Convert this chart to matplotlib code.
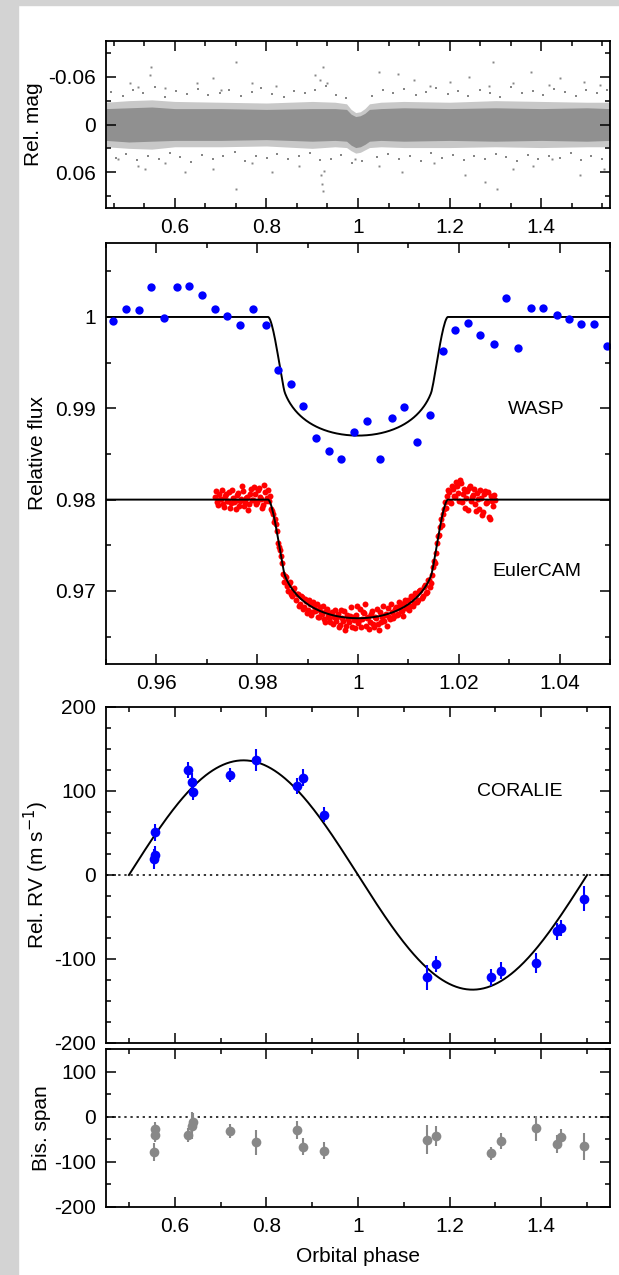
import numpy as np
import matplotlib
matplotlib.use("Agg")
import matplotlib.pyplot as plt
from matplotlib.patches import Rectangle
from matplotlib.ticker import MultipleLocator, FixedLocator

plt.rcParams['font.family'] = ['Liberation Sans', 'DejaVu Sans']
plt.rcParams['axes.unicode_minus'] = False

# ---- WASP survey light curve (top panel): band envelope ----
band_phase = [0.45, 0.50, 0.55, 0.60, 0.70, 0.80, 0.90, 0.95, 0.975, 0.985, 0.995, 1.005,
              1.015, 1.025, 1.05, 1.10, 1.20, 1.30, 1.40, 1.50, 1.55]
core_top = [-0.020, -0.021, -0.022, -0.020, -0.020, -0.019, -0.020, -0.020, -0.019, -0.013, -0.010,
            -0.011, -0.014, -0.019, -0.020, -0.021, -0.020, -0.021, -0.020, -0.021, -0.020]
core_bot = [0.020, 0.022, 0.021, 0.020, 0.020, 0.019, 0.021, 0.020, 0.021, 0.026, 0.029,
            0.028, 0.025, 0.021, 0.020, 0.021, 0.020, 0.021, 0.020, 0.021, 0.020]
mid_top = [-0.028, -0.030, -0.031, -0.029, -0.028, -0.027, -0.029, -0.028, -0.026, -0.019, -0.015,
           -0.016, -0.020, -0.026, -0.028, -0.029, -0.028, -0.030, -0.029, -0.028, -0.028]
mid_bot = [0.028, 0.030, 0.031, 0.028, 0.028, 0.027, 0.030, 0.028, 0.029, 0.033, 0.036,
           0.035, 0.032, 0.029, 0.028, 0.029, 0.029, 0.028, 0.029, 0.028, 0.028]

# scattered points at the fuzzy edge of the band
fringe_phase = [0.462, 0.487, 0.509, 0.531, 0.556, 0.578, 0.603, 0.627, 0.651, 0.672, 0.698, 0.719,
                0.744, 0.768, 0.789, 0.813, 0.838, 0.861, 0.884, 0.906, 0.931, 0.952, 0.973, 1.031,
                1.054, 1.077, 1.101, 1.126, 1.148, 1.171, 1.196, 1.218, 1.241, 1.266, 1.289, 1.311,
                1.334, 1.358, 1.381, 1.404, 1.428, 1.452, 1.476, 1.497, 1.521, 1.543,
                0.471, 0.494, 0.518, 0.541, 0.566, 0.589, 0.612, 0.636, 0.659, 0.683, 0.706, 0.731,
                0.753, 0.777, 0.801, 0.824, 0.848, 0.871, 0.895, 0.918, 0.941, 0.963, 0.986, 1.009,
                1.041, 1.066, 1.089, 1.113, 1.137, 1.159, 1.184, 1.207, 1.231, 1.254, 1.277, 1.301,
                1.323, 1.347, 1.371, 1.393, 1.417, 1.441, 1.464, 1.487, 1.509, 1.532]
fringe_mag = [-0.041, -0.036, -0.044, -0.039, -0.047, -0.035, -0.042, -0.038, -0.045, -0.037, -0.040, -0.043,
              -0.036, -0.041, -0.046, -0.038, -0.035, -0.042, -0.039, -0.044, -0.048, -0.037, -0.033, -0.036,
              -0.043, -0.039, -0.045, -0.037, -0.041, -0.046, -0.038, -0.042, -0.036, -0.044, -0.040, -0.035,
              -0.047, -0.039, -0.042, -0.037, -0.045, -0.041, -0.036, -0.043, -0.039, -0.044,
              0.042, 0.037, 0.045, 0.039, 0.044, 0.036, 0.041, 0.047, 0.038, 0.043, 0.040, 0.035,
              0.046, 0.039, 0.042, 0.037, 0.044, 0.040, 0.036, 0.045, 0.043, 0.038, 0.048, 0.046,
              0.041, 0.037, 0.044, 0.039, 0.046, 0.036, 0.042, 0.038, 0.045, 0.040, 0.043, 0.037,
              0.041, 0.046, 0.038, 0.044, 0.039, 0.042, 0.036, 0.045, 0.040, 0.043]

# sparse outliers of the survey photometry
out_phase = [0.549, 0.545, 0.502, 0.519, 0.579, 0.683, 0.734, 0.648, 0.700, 0.769, 0.821, 0.907,
             0.924, 0.916, 0.933, 1.045, 1.088, 1.122, 1.157, 1.200, 1.243, 1.295, 1.286, 1.338,
             1.377, 1.416, 1.441, 1.493, 1.528,
             0.476, 0.519, 0.536, 0.579, 0.622, 0.683, 0.734, 0.769, 0.812, 0.872, 0.920, 0.922,
             0.924, 0.926, 0.993, 1.045, 1.097, 1.166, 1.234, 1.278, 1.303, 1.338, 1.381, 1.424,
             1.484, 1.536]
out_mag = [-0.072, -0.062, -0.052, -0.047, -0.046, -0.058, -0.079, -0.052, -0.043, -0.052, -0.048, -0.062,
           -0.072, -0.056, -0.052, -0.066, -0.064, -0.056, -0.048, -0.054, -0.060, -0.079, -0.048, -0.052,
           -0.066, -0.050, -0.058, -0.054, -0.050,
           0.043, 0.052, 0.056, 0.048, 0.060, 0.056, 0.081, 0.048, 0.060, 0.052, 0.064, 0.075,
           0.083, 0.058, 0.043, 0.052, 0.060, 0.048, 0.064, 0.072, 0.081, 0.056, 0.052, 0.043,
           0.064, 0.056]

# ---- binned WASP transit ----
wasp_phase = [0.9514, 0.9539, 0.9565, 0.9590, 0.9615, 0.9640, 0.9665, 0.9690, 0.9716, 0.9741,
              0.9766, 0.9791, 0.9817, 0.9841, 0.9867, 0.9891, 0.9917, 0.9942, 0.9967, 0.9992,
              1.0017, 1.0043, 1.0067, 1.0092, 1.0117, 1.0143, 1.0168, 1.0193, 1.0218, 1.0243,
              1.0269, 1.0294, 1.0317, 1.0343, 1.0368, 1.0394, 1.0419, 1.0443, 1.0469, 1.0494]
wasp_flux = [0.99952, 1.00092, 1.00080, 1.00330, 0.99985, 1.00330, 1.00344, 1.00240, 1.00088, 1.00007,
             0.99916, 1.00092, 0.99916, 0.99414, 0.99267, 0.99030, 0.98674, 0.98535, 0.98447, 0.98736,
             0.98861, 0.98447, 0.98890, 0.99015, 0.98626, 0.98930, 0.99623, 0.99861, 0.99934, 0.99802,
             0.99700, 1.00212, 0.99656, 1.00095, 1.00095, 1.00026, 0.99978, 0.99927, 0.99927, 0.99685]

# ---- EulerCAM transit (offset by -0.02) ----
euler_phase = [
    0.9716, 0.9720, 0.9724, 0.9728, 0.9732, 0.9736, 0.9740, 0.9744, 0.9748, 0.9752,
    0.9756, 0.9760, 0.9764, 0.9768, 0.9772, 0.9776, 0.9780, 0.9784, 0.9788, 0.9792,
    0.9796, 0.9800, 0.9804, 0.9808, 0.9812, 0.9816, 0.9820, 0.9824, 0.9828, 0.9832,
    0.9836, 0.9840, 0.9844, 0.9848, 0.9852, 0.9856, 0.9860, 0.9864, 0.9868, 0.9872,
    0.9876, 0.9880, 0.9884, 0.9888, 0.9892, 0.9896, 0.9900, 0.9904, 0.9908, 0.9912,
    0.9916, 0.9920, 0.9924, 0.9928, 0.9932, 0.9936, 0.9940, 0.9944, 0.9948, 0.9952,
    0.9956, 0.9960, 0.9964, 0.9968, 0.9972, 0.9976, 0.9980, 0.9984, 0.9988, 0.9992,
    0.9996, 1.0000, 1.0004, 1.0008, 1.0012, 1.0016, 1.0020, 1.0024, 1.0028, 1.0032,
    1.0036, 1.0040, 1.0044, 1.0048, 1.0052, 1.0056, 1.0060, 1.0064, 1.0068, 1.0072,
    1.0076, 1.0080, 1.0084, 1.0088, 1.0092, 1.0096, 1.0100, 1.0104, 1.0108, 1.0112,
    1.0116, 1.0120, 1.0124, 1.0128, 1.0132, 1.0136, 1.0140, 1.0144, 1.0148, 1.0152,
    1.0156, 1.0160, 1.0164, 1.0168, 1.0172, 1.0176, 1.0180, 1.0184, 1.0188, 1.0192,
    1.0196, 1.0200, 1.0204, 1.0208, 1.0212, 1.0216, 1.0220, 1.0224, 1.0228, 1.0232,
    1.0236, 1.0240, 1.0244, 1.0248, 1.0252, 1.0256, 1.0260, 1.0264, 1.0268, 1.0272,
    0.9718, 0.9722, 0.9726, 0.9730, 0.9734, 0.9738, 0.9742, 0.9746, 0.9750, 0.9754,
    0.9758, 0.9762, 0.9766, 0.9770, 0.9774, 0.9778, 0.9782, 0.9786, 0.9790, 0.9794,
    0.9798, 0.9802, 0.9806, 0.9810, 0.9814, 0.9818, 0.9822, 0.9826, 0.9830, 0.9834,
    0.9838, 0.9842, 0.9846, 0.9850, 0.9854, 0.9858, 0.9862, 0.9866, 0.9870, 0.9874,
    0.9878, 0.9882, 0.9886, 0.9890, 0.9894, 0.9898, 0.9902, 0.9906, 0.9910, 0.9914,
    0.9918, 0.9922, 0.9926, 0.9930, 0.9934, 0.9938, 0.9942, 0.9946, 0.9950, 0.9954,
    0.9958, 0.9962, 0.9966, 0.9970, 0.9974, 0.9978, 0.9982, 0.9986, 0.9990, 0.9994,
    0.9998, 1.0002, 1.0006, 1.0010, 1.0014, 1.0018, 1.0022, 1.0026, 1.0030, 1.0034,
    1.0038, 1.0042, 1.0046, 1.0050, 1.0054, 1.0058, 1.0062, 1.0066, 1.0070, 1.0074,
    1.0078, 1.0082, 1.0086, 1.0090, 1.0094, 1.0098, 1.0102, 1.0106, 1.0110, 1.0114,
    1.0118, 1.0122, 1.0126, 1.0130, 1.0134, 1.0138, 1.0142, 1.0146, 1.0150, 1.0154,
    1.0158, 1.0162, 1.0166, 1.0170, 1.0174, 1.0178, 1.0182, 1.0186, 1.0190, 1.0194,
    1.0198, 1.0202, 1.0206, 1.0210, 1.0214, 1.0218, 1.0222, 1.0226, 1.0230, 1.0234,
    1.0238, 1.0242, 1.0246, 1.0250, 1.0254, 1.0258, 1.0262, 1.0266, 1.0270]
euler_flux = [
    0.9803, 0.9797, 0.9806, 0.9801, 0.9795, 0.9804, 0.9799, 0.9808, 0.9796, 0.9802,
    0.9798, 0.9805, 0.9793, 0.9801, 0.9809, 0.9797, 0.9803, 0.9795, 0.9812, 0.9800,
    0.9806, 0.9797, 0.9813, 0.9801, 0.9794, 0.9808, 0.9802, 0.9799, 0.9790, 0.9784,
    0.9779, 0.9766, 0.9748, 0.9738, 0.9719, 0.9716, 0.9705, 0.9708, 0.9697, 0.9701,
    0.9690, 0.9697, 0.9686, 0.9693, 0.9682, 0.9689, 0.9679, 0.9686, 0.9677, 0.9684,
    0.9679, 0.9672, 0.9682, 0.9675, 0.9669, 0.9678, 0.9673, 0.9666, 0.9677, 0.9671,
    0.9667, 0.9675, 0.9663, 0.9670, 0.9678, 0.9662, 0.9669, 0.9673, 0.9660, 0.9668,
    0.9674, 0.9665, 0.9680, 0.9669, 0.9676, 0.9662, 0.9671, 0.9666, 0.9678, 0.9661,
    0.9670, 0.9664, 0.9677, 0.9672, 0.9667, 0.9675, 0.9681, 0.9669, 0.9677, 0.9673,
    0.9682, 0.9675, 0.9684, 0.9678, 0.9687, 0.9681, 0.9690, 0.9684, 0.9693, 0.9687,
    0.9697, 0.9690, 0.9701, 0.9694, 0.9706, 0.9699, 0.9712, 0.9709, 0.9726, 0.9731,
    0.9753, 0.9761, 0.9779, 0.9784, 0.9797, 0.9804, 0.9808, 0.9796, 0.9812, 0.9803,
    0.9815, 0.9799, 0.9818, 0.9806, 0.9791, 0.9809, 0.9813, 0.9798, 0.9805, 0.9795,
    0.9807, 0.9790, 0.9802, 0.9786, 0.9809, 0.9797, 0.9781, 0.9804, 0.9793, 0.9800,
    0.9809, 0.9794, 0.9801, 0.9811, 0.9792, 0.9806, 0.9798, 0.9791, 0.9810, 0.9797,
    0.9790, 0.9807, 0.9799, 0.9815, 0.9793, 0.9802, 0.9789, 0.9806, 0.9800, 0.9814,
    0.9795, 0.9810, 0.9803, 0.9791, 0.9816, 0.9798, 0.9811, 0.9804, 0.9788, 0.9776,
    0.9773, 0.9752, 0.9745, 0.9731, 0.9710, 0.9715, 0.9700, 0.9710, 0.9694, 0.9703,
    0.9697, 0.9684, 0.9694, 0.9680, 0.9691, 0.9676, 0.9690, 0.9674, 0.9688, 0.9678,
    0.9686, 0.9671, 0.9677, 0.9684, 0.9666, 0.9680, 0.9670, 0.9676, 0.9664, 0.9679,
    0.9672, 0.9660, 0.9679, 0.9667, 0.9657, 0.9674, 0.9666, 0.9682, 0.9671, 0.9659,
    0.9683, 0.9668, 0.9660, 0.9677, 0.9686, 0.9670, 0.9658, 0.9675, 0.9664, 0.9672,
    0.9680, 0.9657, 0.9666, 0.9683, 0.9674, 0.9662, 0.9672, 0.9686, 0.9670, 0.9680,
    0.9674, 0.9688, 0.9679, 0.9673, 0.9690, 0.9684, 0.9679, 0.9695, 0.9683, 0.9698,
    0.9688, 0.9700, 0.9692, 0.9704, 0.9698, 0.9712, 0.9704, 0.9718, 0.9733, 0.9741,
    0.9760, 0.9770, 0.9772, 0.9790, 0.9791, 0.9810, 0.9797, 0.9815, 0.9804, 0.9819,
    0.9807, 0.9821, 0.9797, 0.9812, 0.9802, 0.9789, 0.9815, 0.9803, 0.9812, 0.9788,
    0.9801, 0.9811, 0.9783, 0.9806, 0.9796, 0.9808, 0.9779, 0.9799, 0.9805]

# transit model parameters (radius ratio, orbital speed in R*/phase, quadratic limb darkening)
K_RAD = 0.102
V_ORB = 61.9
U1, U2 = 0.5, 0.2

# ---- CORALIE radial velocities and bisector spans ----
rv_phase = [0.554, 0.556, 0.558, 0.629, 0.637, 0.640, 0.720, 0.777, 0.867, 0.881,
            0.926, 1.150, 1.170, 1.290, 1.312, 1.388, 1.434, 1.442, 1.494]
rv = [19, 24, 51, 125, 111, 99, 119, 137, 106, 116,
      72, -122, -106, -122, -114, -105, -67, -63, -28]
rv_err = [12, 10, 10, 10, 10, 10, 8, 13, 10, 10,
          9, 15, 10, 10, 10, 12, 10, 10, 15]
bis = [-78, -27, -40, -41, -20, -12, -32, -57, -29, -66,
       -75, -51, -42, -81, -53, -26, -61, -44, -65]
bis_err = [20, 16, 16, 16, 30, 20, 15, 28, 20, 18,
           18, 32, 22, 14, 18, 28, 20, 16, 30]
K_RV = 136.5


def transit_model(phase, base):
    # integrate the limb-darkened star over the planet disk
    z = np.abs(np.asarray(phase) - 1.0) * V_ORB
    g = np.linspace(-1, 1, 61)
    gx, gy = np.meshgrid(g, g)
    inside = gx ** 2 + gy ** 2 <= 1
    px = gx[inside] * K_RAD
    py = gy[inside] * K_RAD
    r2 = (z[:, None] + px[None, :]) ** 2 + py[None, :] ** 2
    mu = np.sqrt(np.clip(1 - r2, 0, None))
    inten = np.where(r2 < 1, 1 - U1 * (1 - mu) - U2 * (1 - mu) ** 2, 0.0)
    blocked = inten.mean(axis=1) * K_RAD ** 2 / (1 - U1 / 3 - U2 / 6)
    return base - blocked


def style_axis(ax):
    ax.tick_params(which='both', direction='in', top=True, right=True,
                   labelsize=15, width=1.1, pad=7)
    ax.tick_params(which='major', length=7)
    ax.tick_params(which='minor', length=3.5)
    for sp in ax.spines.values():
        sp.set_linewidth(1.3)


fig = plt.figure(figsize=(6.19, 12.75), dpi=100)

# light grey frame on the left and the top
fig.patches.append(Rectangle((0, 0), 18 / 619, 1, transform=fig.transFigure, color='#d3d3d3', zorder=-10))
fig.patches.append(Rectangle((0, 1 - 5 / 1275), 1, 5 / 1275, transform=fig.transFigure, color='#d3d3d3', zorder=-10))

L, W = 106 / 619, 504 / 619
ax1 = fig.add_axes([L, 1 - 208 / 1275, W, 167 / 1275])
ax2 = fig.add_axes([L, 1 - 664 / 1275, W, 421 / 1275])
ax3 = fig.add_axes([L, 1 - 1043 / 1275, W, 336 / 1275])
ax4 = fig.add_axes([L, 1 - 1207 / 1275, W, 158 / 1275])

# ---- panel 1: full WASP light curve ----
grey = '#868686'
ax1.fill_between(band_phase, mid_top, mid_bot, color=grey, alpha=0.45, lw=0)
ax1.fill_between(band_phase, core_top, core_bot, color=grey, alpha=0.85, lw=0)
ax1.plot(fringe_phase, fringe_mag, 's', color=grey, ms=1.6, mew=0)
ax1.plot(out_phase, out_mag, 's', color=grey, ms=1.4, mew=0)
ax1.set_xlim(0.45, 1.55)
ax1.set_ylim(0.105, -0.105)
ax1.set_yticks([-0.06, 0, 0.06])
ax1.set_yticklabels(['-0.06', '0', '0.06'])
ax1.yaxis.set_minor_locator(FixedLocator([-0.09, -0.03, 0.03, 0.09]))
ax1.set_xticks([0.6, 0.8, 1.0, 1.2, 1.4])
ax1.set_xticklabels(['0.6', '0.8', '1', '1.2', '1.4'])
ax1.xaxis.set_minor_locator(MultipleLocator(0.2 / 3))
ax1.set_ylabel('Rel. mag', fontsize=15, labelpad=4)
style_axis(ax1)

# ---- panel 2: transits ----
model_phase = np.linspace(0.95, 1.05, 600)
ax2.plot(model_phase, transit_model(model_phase, 1.0), color='black', lw=1.4, zorder=1)
ax2.plot(model_phase, transit_model(model_phase, 0.98), color='black', lw=1.4, zorder=3)
ax2.plot(wasp_phase, wasp_flux, 'o', color='#0000ff', ms=6, mew=0, zorder=2)
ax2.plot(euler_phase, euler_flux, 'o', color='#ff0000', ms=4.3, mew=0, zorder=2)
ax2.set_xlim(0.95, 1.05)
ax2.set_ylim(0.962, 1.0081)
ax2.set_xticks([0.96, 0.98, 1.0, 1.02, 1.04])
ax2.set_xticklabels(['0.96', '0.98', '1', '1.02', '1.04'])
ax2.xaxis.set_minor_locator(MultipleLocator(0.01))
ax2.set_yticks([0.97, 0.98, 0.99, 1.0])
ax2.set_yticklabels(['0.97', '0.98', '0.99', '1'])
ax2.yaxis.set_minor_locator(MultipleLocator(0.005))
ax2.set_ylabel('Relative flux', fontsize=15, labelpad=6)
ax2.text(1.0354, 0.9899, 'WASP', fontsize=14, ha='center', va='center')
ax2.text(1.0354, 0.9721, 'EulerCAM', fontsize=14, ha='center', va='center')
style_axis(ax2)

# ---- panel 3: radial velocities ----
orb = np.linspace(0.5, 1.5, 400)
ax3.axhline(0, color='black', lw=1.1, ls=(0, (1.5, 2.5)))
ax3.plot(orb, -K_RV * np.sin(2 * np.pi * orb), color='black', lw=1.4)
ax3.errorbar(rv_phase, rv, yerr=rv_err, fmt='o', color='#0000ff', ms=7, mew=0,
             elinewidth=1.5, capsize=0)
ax3.set_xlim(0.45, 1.55)
ax3.set_ylim(-200, 200)
ax3.set_xticks([0.6, 0.8, 1.0, 1.2, 1.4])
ax3.xaxis.set_minor_locator(MultipleLocator(0.1))
ax3.tick_params(labelbottom=False)
ax3.set_yticks([-200, -100, 0, 100, 200])
ax3.yaxis.set_minor_locator(MultipleLocator(25))
ax3.set_ylabel('Rel. RV (m s$^{-1}$)', fontsize=15, labelpad=2)
ax3.text(1.353, 99, 'CORALIE', fontsize=14, ha='center', va='center')
style_axis(ax3)

# ---- panel 4: bisector spans ----
ax4.axhline(0, color='black', lw=1.1, ls=(0, (1.5, 2.5)))
ax4.errorbar(rv_phase, bis, yerr=bis_err, fmt='o', color='#888888', ms=7, mew=0,
             elinewidth=1.5, capsize=0)
ax4.set_xlim(0.45, 1.55)
ax4.set_ylim(-200, 150)
ax4.set_xticks([0.6, 0.8, 1.0, 1.2, 1.4])
ax4.set_xticklabels(['0.6', '0.8', '1', '1.2', '1.4'])
ax4.xaxis.set_minor_locator(MultipleLocator(0.1))
ax4.set_yticks([-200, -100, 0, 100])
ax4.yaxis.set_minor_locator(MultipleLocator(50))
ax4.set_ylabel('Bis. span', fontsize=15, labelpad=2)
ax4.set_xlabel('Orbital phase', fontsize=15, labelpad=8)
style_axis(ax4)

fig.savefig('out.png', dpi=100)
plt.close(fig)
